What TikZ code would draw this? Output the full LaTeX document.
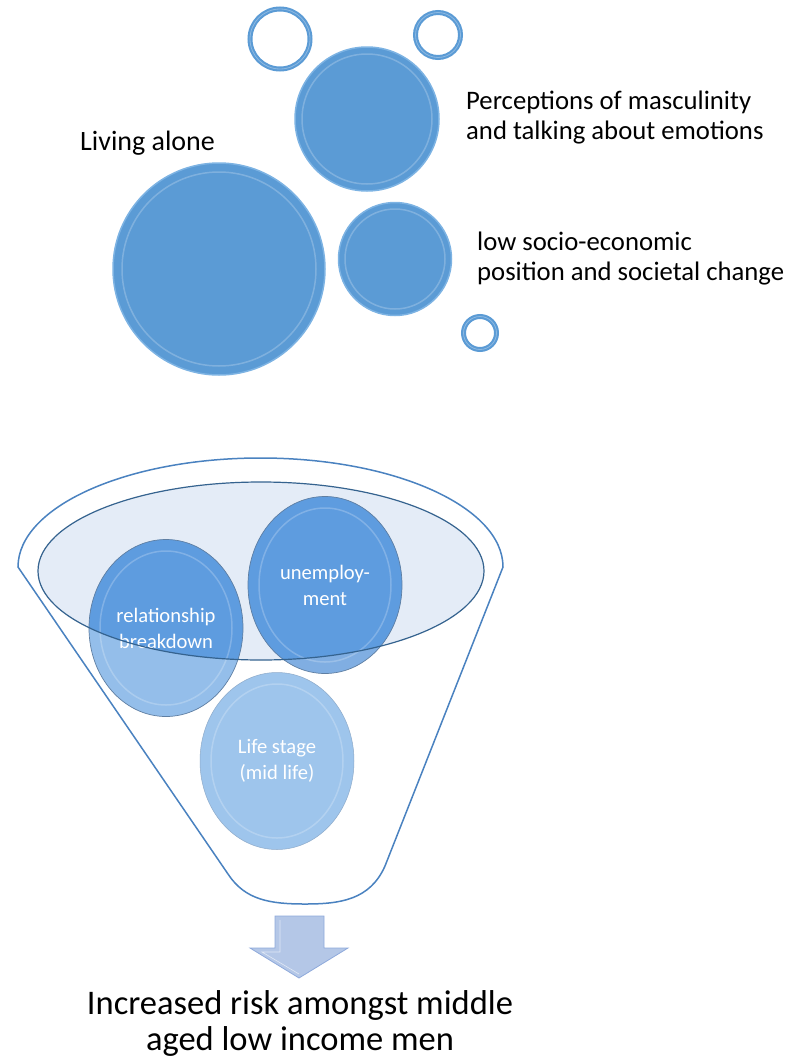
\documentclass[tikz,border=0pt]{standalone}
\usepackage{fontspec}
\setmainfont{Carlito}
\usetikzlibrary{shapes.geometric}
\definecolor{bub}{HTML}{5B9BD5}
\definecolor{bubedge}{HTML}{7DB3E3}
\definecolor{dkc}{HTML}{5E9CDF}
\definecolor{ltc}{HTML}{94BEEA}
\definecolor{ltu}{HTML}{80AEE2}
\definecolor{ltc2}{HTML}{9EC5EC}
\definecolor{funline}{HTML}{4A82C0}
\definecolor{innline}{HTML}{35638F}
\definecolor{innfill}{HTML}{E4ECF7}
\definecolor{balledge}{HTML}{5F7FA3}
\definecolor{arrfill}{HTML}{B4C7E7}
\definecolor{arredge}{HTML}{8EA9DB}
\tikzset{
  bubble/.style={circle, fill=bub, draw=bubedge, line width=1.5pt, inner sep=0pt},
  ringc/.style={circle, draw=bub, line width=5pt, inner sep=0pt, fill=none},
  lbl/.style={font=\fontsize{26.7}{30}\selectfont, align=left, text=black, inner sep=0pt},
  ball/.style={ellipse, minimum width=154pt, minimum height=177pt, inner sep=0pt},
  balltxt/.style={font=\fontsize{20.6}{26}\selectfont, text=white, align=center, inner sep=0pt},
  gloss/.style={draw=white, draw opacity=0.22, line width=1.5pt}
}
\begin{document}
\begin{tikzpicture}[x=1pt,y=-1pt]
\useasboundingbox (0,0) rectangle (800,1060);
% ---- top bubbles ----
\node[bubble, minimum size=212pt] (alone) at (219,269) {};
\node[bubble, minimum size=144pt] (masc) at (367,119) {};
\node[bubble, minimum size=113pt] (socio) at (395,259) {};
\draw[gloss] (alone) circle[radius=97];
\draw[gloss] (masc) circle[radius=65];
\draw[gloss] (socio) circle[radius=50];
\node[ringc, minimum size=60pt] (r1) at (280,39) {};
\node[ringc, minimum size=45pt] (r2) at (438,35) {};
\node[ringc, minimum size=33pt] (r3) at (480,333) {};
\draw[white, opacity=0.3, line width=0.8pt] (r1) circle[radius=30];
\draw[white, opacity=0.3, line width=0.8pt] (r2) circle[radius=22.5];
\draw[white, opacity=0.3, line width=0.8pt] (r3) circle[radius=16.5];
\node[lbl, font=\fontsize{28}{30}\selectfont, anchor=west] (talone) at (80,143) {Living alone};
\node[lbl, anchor=west] (tmasc) at (466,118) {Perceptions of masculinity\\and talking about emotions};
\node[lbl, anchor=west] (tsocio) at (477,259) {low socio-economic\\position and societal change};
% ---- funnel ----
\draw[funline, line width=1.5pt, fill=white] (18,567) arc[start angle=180, end angle=360, x radius=242.5, y radius=109]
  -- (385,866) .. controls (370,900) and (340,904) .. (305,904)
  .. controls (270,904) and (245,900) .. (228,874) -- cycle;
\fill[innfill] (261,571) ellipse[x radius=223, y radius=89];
\node[ball, fill=ltc] (rel) at (166,628) {};
\node[ball, fill=ltu] (unemp) at (325,585) {};
\node[ball, fill=ltc2] (life) at (277,761) {};
\begin{scope}
  \clip (261,571) ellipse[x radius=223, y radius=89];
  \fill[dkc] (rel.center) ellipse[x radius=77, y radius=88.5];
  \fill[dkc] (unemp.center) ellipse[x radius=77, y radius=88.5];
\end{scope}
\draw[gloss] (rel.center) ellipse[x radius=66, y radius=77];
\draw[gloss] (unemp.center) ellipse[x radius=66, y radius=77];
\draw[gloss] (life.center) ellipse[x radius=66, y radius=77];
\draw[balledge, line width=0.7pt] (rel.center) ellipse[x radius=77, y radius=88.5];
\draw[balledge, line width=0.7pt] (unemp.center) ellipse[x radius=77, y radius=88.5];
\draw[ltc!70!gray, line width=0.5pt] (life.center) ellipse[x radius=77, y radius=88.5];
\node[balltxt] (trel) at (166,628) {relationship\\breakdown};
\node[balltxt] (tunemp) at (325,585) {unemploy-\\ment};
\node[balltxt] (tlife) at (277,761) {Life stage\\(mid life)};
\draw[innline, line width=1.2pt] (261,571) ellipse[x radius=223, y radius=89];
% ---- arrow ----
\draw[arredge, fill=arrfill, line width=0.8pt, line join=miter]
  (275,916) -- (324,916) -- (324,948) -- (348,948) -- (299,978) -- (250,948) -- (275,948) -- cycle;
\draw[white, opacity=0.6, line width=0.6pt] (280,920) -- (280,952) -- (262,952) -- (299,974);
\node[font=\fontsize{34.5}{36}\selectfont, align=center, inner sep=0pt] (result) at (300,1023) {Increased risk amongst middle\\aged low income men};
\end{tikzpicture}
\end{document}
